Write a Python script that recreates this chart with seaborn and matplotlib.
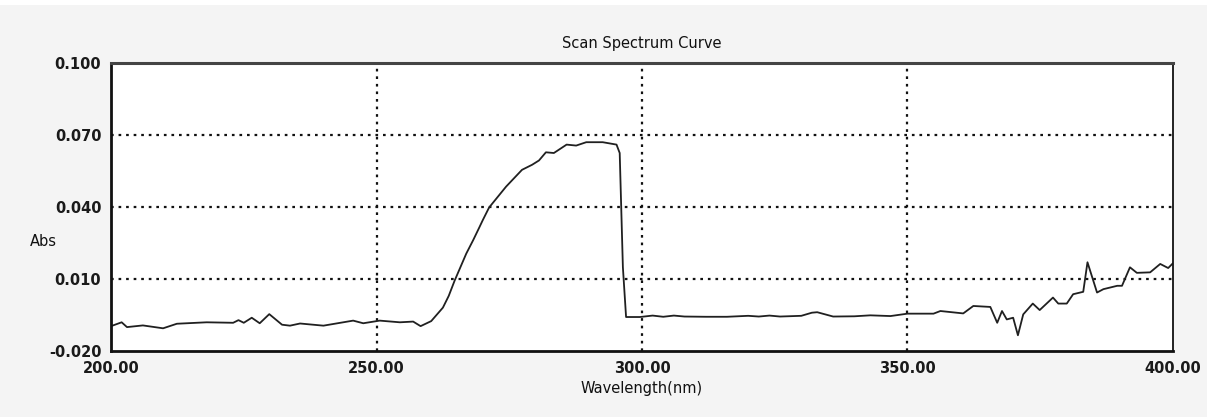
import matplotlib
matplotlib.use("Agg")
import matplotlib.pyplot as plt
import seaborn as sns
import pandas as pd
from matplotlib.patches import Rectangle

# wavelength (nm) and absorbance
wavelength = [
    # baseline 200-262
    200, 202, 203, 206, 209.8, 212.4, 218, 223, 224, 225, 226.5, 228, 229.8,
    232.2, 233.7, 235.6, 240, 245.6, 247.5, 250.6, 254.4, 256.9, 258.3, 260.3, 262.5,
    # rise, plateau and drop
    263.6, 264.7, 266.9, 268.2, 269.4, 270, 271.2, 274.4, 277.4, 279.3, 280.6,
    281.9, 283.4, 285.8, 287.6, 289.5, 292.6, 295.2, 295.8, 296.4, 297, 299.6,
    # flat part
    302, 304, 306, 308, 312, 316, 320, 322, 324, 326, 330, 332, 333, 336, 340,
    343, 346.8, 350, 354.9, 356.2, 360.5,
    # noisy tail
    362.4, 365.6, 366.9, 367.8, 368.7, 369.9, 370.8, 371.8, 373.6, 374.9, 377.4,
    378.4, 380, 381.2, 383.1, 383.9, 385.7, 386.9, 389.5, 390.4, 391.9, 393.2,
    395.7, 397.6, 399.1, 400,
]
absorbance = [
    -0.0096, -0.008, -0.010, -0.0093, -0.0105, -0.0086, -0.008, -0.0082, -0.0071,
    -0.0082, -0.0061, -0.0084, -0.0046, -0.009, -0.0094, -0.0085, -0.0094, -0.0073,
    -0.0084, -0.0073, -0.0080, -0.0077, -0.0096, -0.0075, -0.0019,
    0.0030, 0.0093, 0.0206, 0.0262, 0.0317, 0.0345, 0.0398, 0.0485, 0.0555, 0.0576,
    0.0594, 0.0628, 0.0625, 0.0660, 0.0656, 0.0670, 0.0670, 0.0660, 0.0625, 0.0149,
    -0.0058, -0.0058,
    -0.0052, -0.0057, -0.0052, -0.0056, -0.0057, -0.0057, -0.0053, -0.0056, -0.0052,
    -0.0056, -0.0053, -0.0040, -0.0038, -0.0056, -0.0055, -0.0051, -0.0054, -0.0044,
    -0.0044, -0.0033, -0.0043,
    -0.0012, -0.0016, -0.0082, -0.0033, -0.0068, -0.0061, -0.0134, -0.0047, -0.0002,
    -0.0029, 0.0023, -0.0002, -0.0002, 0.0037, 0.0047, 0.0170, 0.0044, 0.0058,
    0.0072, 0.0072, 0.0149, 0.0126, 0.0128, 0.0163, 0.0146, 0.0166,
]

x_ticks = [200, 250, 300, 350, 400]
y_ticks = [-0.020, 0.010, 0.040, 0.070, 0.100]

df = pd.DataFrame({"Wavelength": wavelength, "Abs": absorbance})

sns.set_style("white")
plt.rcParams["font.family"] = ["DejaVu Sans"]

fig = plt.figure(figsize=(12.07, 4.17), dpi=100, facecolor="#f4f4f4")
# white strip at the very top (page margin)
fig.patches.append(Rectangle((0, 0.988), 1, 0.012, transform=fig.transFigure,
                             facecolor="white", edgecolor="none", zorder=0))

ax = fig.add_axes([0.092, 0.158, 0.8798, 0.691])
ax.set_facecolor("white")

sns.lineplot(data=df, x="Wavelength", y="Abs", ax=ax, color="#202020",
             linewidth=1.3, estimator=None, sort=False)

ax.set_xlim(200, 400)
ax.set_ylim(-0.020, 0.100)
ax.set_xticks(x_ticks)
ax.set_yticks(y_ticks)
ax.set_xticklabels([f"{v:.2f}" for v in x_ticks], fontsize=10.5, fontweight="bold")
ax.set_yticklabels([f"{v:.3f}" for v in y_ticks], fontsize=10.5, fontweight="bold")
ax.tick_params(axis="both", length=0, pad=7, colors="#1a1a1a")

for v in x_ticks[1:-1]:
    ax.axvline(v, color="#111111", linewidth=1.6, linestyle=(0, (1.2, 2.2)), zorder=1)
for v in y_ticks[1:-1]:
    ax.axhline(v, color="#111111", linewidth=1.6, linestyle=(0, (1.2, 2.2)), zorder=1)

for side in ["left", "bottom", "top", "right"]:
    ax.spines[side].set_visible(True)
    ax.spines[side].set_color("#111111")
ax.spines["left"].set_linewidth(2)
ax.spines["bottom"].set_linewidth(2)
ax.spines["top"].set_linewidth(2.2)
ax.spines["top"].set_color("#444444")
ax.spines["right"].set_linewidth(1.3)

ax.set_title("Scan Spectrum Curve", fontsize=10.5, pad=11, color="#111111")
ax.set_xlabel("Wavelength(nm)", fontsize=10.5, labelpad=4, color="#111111")
ax.set_ylabel("")
fig.text(0.025, 0.42, "Abs", fontsize=10.5, ha="left", va="center", color="#111111")

fig.savefig("out.png", dpi=100, facecolor=fig.get_facecolor())
